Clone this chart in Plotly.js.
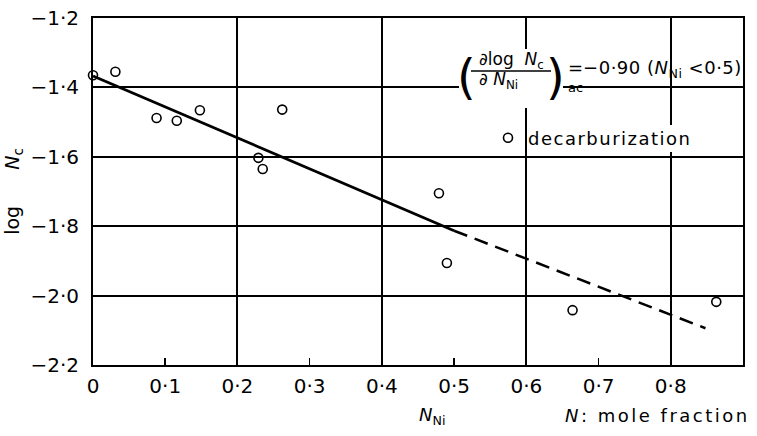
<!DOCTYPE html>
<html>
<head>
<meta charset="utf-8">
<script src="https://cdn.plot.ly/plotly-3.0.1.min.js"></script>
<style>html,body{margin:0;padding:0;background:#fff;}#chart{width:757px;height:436px;}</style>
</head>
<body>
<div id="chart"></div>
<script>
// Data
const nNi = [0.000, 0.031, 0.088, 0.116, 0.148, 0.229, 0.235, 0.262, 0.479, 0.490, 0.664, 0.863];
const logNc = [-1.365, -1.355, -1.488, -1.496, -1.466, -1.603, -1.635, -1.464, -1.705, -1.906, -2.042, -2.018];
const fitSolidX = [0.0, 0.5];
const fitSolidY = [-1.367, -1.813];
const fitDashX = [0.5, 0.848];
const fitDashY = [-1.813, -2.094];
const xTickVals = [0, 0.1, 0.2, 0.3, 0.4, 0.5, 0.6, 0.7, 0.8, 0.9];
const xTickText = ['0', '0·1', '0·2', '0·3', '0·4', '0·5', '0·6', '0·7', '0·8', '0·9'];
const yTickVals = [-2.2, -2.0, -1.8, -1.6, -1.4, -1.2];
const yTickText = ['−2·2', '−2·0', '−1·8', '−1·6', '−1·4', '−1·2'];
const seriesName = '<span style="letter-spacing:1.5px">decarburization</span>';

const FONT = 'DejaVu Sans, Liberation Sans, sans-serif';
const W = 650, H = 347, L = 93, T = 18;
function px(x) { return (x - L) / W; }
function py(y) { return (T + H - y) / H; }
function ann(x, y, text, size, extra) {
  return Object.assign({xref: 'paper', yref: 'paper', x: px(x), y: py(y), xanchor: 'center', yanchor: 'middle',
    text: text, showarrow: false, font: {family: FONT, size: size, color: '#000'}}, extra || {});
}
const NB = '\u00a0';

const traces = [
  {x: fitSolidX, y: fitSolidY, mode: 'lines', line: {color: '#000', width: 2.8}, showlegend: false, hoverinfo: 'skip'},
  {x: fitDashX, y: fitDashY, mode: 'lines', line: {color: '#000', width: 2.5, dash: '14px,8px'}, showlegend: false, hoverinfo: 'skip'},
  {x: nNi, y: logNc, mode: 'markers', name: seriesName, cliponaxis: false,
   marker: {symbol: 'circle-open', size: 9, color: '#000', line: {color: '#000', width: 1.6}}}
];

const layout = {
  width: 757, height: 436,
  margin: {l: L, r: 757 - L - W, t: T, b: 436 - T - H},
  paper_bgcolor: '#fff', plot_bgcolor: '#fff',
  font: {family: FONT, color: '#000', size: 19},
  showlegend: true,
  legend: {x: px(488), y: py(138), xanchor: 'left', yanchor: 'middle', bgcolor: 'rgba(0,0,0,0)',
           font: {family: FONT, size: 18, color: '#000'}, borderwidth: 0},
  xaxis: {range: [0, 0.9], tickmode: 'array', tickvals: xTickVals, ticktext: xTickText,
          ticks: 'inside', ticklen: 7, tickwidth: 1.5, tickcolor: '#000',
          showgrid: false, zeroline: false, showline: true, linecolor: '#000', linewidth: 2, mirror: true,
          ticklabelstandoff: 2,
          minor: {tickmode: 'array', tickvals: [0.2, 0.4, 0.6, 0.8], showgrid: true, gridcolor: '#000', gridwidth: 2, ticks: ''},
          tickfont: {family: FONT, size: 20, color: '#000'}},
  yaxis: {range: [-2.2, -1.2], tickmode: 'array', tickvals: yTickVals, ticktext: yTickText,
          ticks: '', showgrid: true, gridcolor: '#000', gridwidth: 2, zeroline: false,
          showline: true, linecolor: '#000', linewidth: 2, mirror: true, ticklabelstandoff: 8,
          tickfont: {family: FONT, size: 20, color: '#000'},
          title: {text: 'log' + NB.repeat(6) + '<i>N</i><sub>c</sub>', font: {family: FONT, size: 19, color: '#000'}, standoff: 6}},
  shapes: [
    {type: 'rect', xref: 'paper', yref: 'paper', x0: px(459), x1: px(563), y0: py(108), y1: py(49), fillcolor: '#fff', line: {width: 0}, layer: 'above'},
    {type: 'rect', xref: 'paper', yref: 'paper', x0: px(528), x1: px(696), y0: py(152), y1: py(125), fillcolor: '#fff', line: {width: 0}, layer: 'above'},
    {type: 'line', xref: 'paper', yref: 'paper', x0: px(471), x1: px(551), y0: py(71), y1: py(71), line: {color: '#000', width: 1.5}, layer: 'above'}
  ],
  annotations: [
    ann(466, 77, '(', 48),
    ann(555, 77, ')', 48),
    ann(511, 61, '∂log' + NB + NB + '<i>N</i><sub>c</sub>', 17),
    ann(498, 81, '∂' + NB + '<i>N</i><sub>Ni</sub>', 17),
    ann(575, 87, 'ac', 13),
    ann(566, 69, '=<span style="letter-spacing:0.5px">−0·90 (<i>N</i><sub>Ni</sub> <0·5)</span>', 18, {xanchor: 'left'}),
    ann(432, 416, '<i>N</i><sub>Ni</sub>', 18),
    ann(563, 415, '<span style="letter-spacing:2.5px"><i>N</i>: mole fraction</span>', 18, {xanchor: 'left'})
  ]
};

Plotly.newPlot('chart', traces, layout, {displayModeBar: false, staticPlot: true});
</script>
</body>
</html>
